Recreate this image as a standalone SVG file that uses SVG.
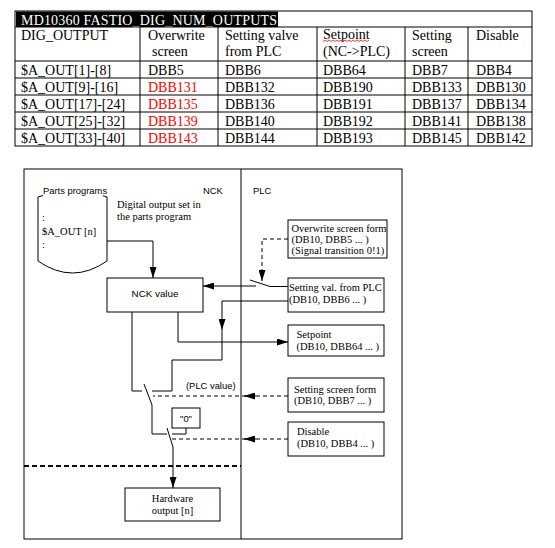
<svg xmlns="http://www.w3.org/2000/svg" width="555" height="548" viewBox="0 0 555 548">
<defs>
<style>
.tb{font-family:"Liberation Serif","Times New Roman",serif;font-size:14px;fill:#000}
.red{fill:#ff0000}
.ser{font-family:"Liberation Serif","Times New Roman",serif;font-size:10.5px;fill:#000}
.san{font-family:"Liberation Sans",Arial,sans-serif;font-size:9.4px;fill:#000}
.grid{stroke:#000;stroke-width:1;fill:none}
.box{fill:#fff;stroke:#000;stroke-width:1}
.ln{fill:none;stroke:#000;stroke-width:1}
.dash{fill:none;stroke:#000;stroke-width:1;stroke-dasharray:4,3}
.sep{fill:none;stroke:#000;stroke-width:2;stroke-dasharray:5,3}
</style>
<marker id="ah" markerWidth="11" markerHeight="7" refX="11" refY="3.5" orient="auto" markerUnits="userSpaceOnUse">
<path d="M0,0 L11,3.5 L0,7 Z" fill="#000"/>
</marker>
</defs>
<rect width="555" height="548" fill="#fff"/>

<g id="table">
<rect x="15" y="11" width="517" height="135" class="grid"/>
<rect x="16" y="11.5" width="262" height="15.5" fill="#000"/>
<text x="21" y="24.5" class="tb" style="fill:#fff" textLength="256" lengthAdjust="spacing">MD10360 FASTIO_DIG_NUM_OUTPUTS</text>
<path class="grid" d="M15,27H532M15,61H532M15,78H532M15,95H532M15,112H532M15,129H532M140,27V146M218,27V146M317,27V146M405,27V146M468,27V146"/>
<text class="tb" x="21" y="40">DIG_OUTPUT</text>
<text class="tb" x="148" y="40">Overwrite</text>
<text class="tb" x="152" y="55.5">screen</text>
<text class="tb" x="225" y="40">Setting valve</text>
<text class="tb" x="225" y="55.5">from PLC</text>
<text class="tb" x="323" y="39">Setpoint</text>
<polyline points="323,41.5 325,40 327,41.5 329,40 331,41.5 333,40 335,41.5 337,40 339,41.5 341,40 343,41.5 345,40 347,41.5 349,40 351,41.5 353,40 355,41.5 357,40 359,41.5 361,40 363,41.5 365,40 367,41.5 369,40" fill="none" stroke="#ff0000" stroke-width="0.8"/>
<text class="tb" x="323" y="55.5">(NC-&gt;PLC)</text>
<text class="tb" x="412" y="40">Setting</text>
<text class="tb" x="412" y="55.5">screen</text>
<text class="tb" x="476" y="40">Disable</text>

<text class="tb" x="21" y="74.5">$A_OUT[1]-[8]</text>
<text class="tb" x="148" y="74.5">DBB5</text>
<text class="tb" x="225" y="74.5">DBB6</text>
<text class="tb" x="323" y="74.5">DBB64</text>
<text class="tb" x="412" y="74.5">DBB7</text>
<text class="tb" x="476" y="74.5">DBB4</text>

<text class="tb" x="21" y="91.5">$A_OUT[9]-[16]</text>
<text class="tb red" x="148" y="91.5">DBB131</text>
<text class="tb" x="225" y="91.5">DBB132</text>
<text class="tb" x="323" y="91.5">DBB190</text>
<text class="tb" x="412" y="91.5">DBB133</text>
<text class="tb" x="476" y="91.5">DBB130</text>

<text class="tb" x="21" y="108.5">$A_OUT[17]-[24]</text>
<text class="tb red" x="148" y="108.5">DBB135</text>
<text class="tb" x="225" y="108.5">DBB136</text>
<text class="tb" x="323" y="108.5">DBB191</text>
<text class="tb" x="412" y="108.5">DBB137</text>
<text class="tb" x="476" y="108.5">DBB134</text>

<text class="tb" x="21" y="125.5">$A_OUT[25]-[32]</text>
<text class="tb red" x="148" y="125.5">DBB139</text>
<text class="tb" x="225" y="125.5">DBB140</text>
<text class="tb" x="323" y="125.5">DBB192</text>
<text class="tb" x="412" y="125.5">DBB141</text>
<text class="tb" x="476" y="125.5">DBB138</text>

<text class="tb" x="21" y="142.5">$A_OUT[33]-[40]</text>
<text class="tb red" x="148" y="142.5">DBB143</text>
<text class="tb" x="225" y="142.5">DBB144</text>
<text class="tb" x="323" y="142.5">DBB193</text>
<text class="tb" x="412" y="142.5">DBB145</text>
<text class="tb" x="476" y="142.5">DBB142</text>
</g>

<g id="frame">
<rect x="24" y="169" width="378" height="370" class="ln"/>
<line x1="241" y1="169" x2="241" y2="539" class="ln"/>
<line x1="24" y1="466" x2="241" y2="466" class="sep"/>
<text class="san" x="203" y="194">NCK</text>
<text class="san" x="253" y="194">PLC</text>
<text class="ser" x="117" y="208">Digital output set in</text>
<text class="ser" x="117" y="219.5">the parts program</text>
<text class="san" x="186" y="388.5">(PLC value)</text>
</g>

<g id="parts-programs">
<path class="box" d="M38,197 Q72.5,183 107,197 V261 Q72.5,285 38,261 Z"/>
<rect x="43" y="185" width="60" height="11" fill="#fff"/>
<text class="san" x="43" y="194">Parts programs</text>
<text class="ser" x="42" y="221">:</text>
<text class="ser" x="42" y="235">$A_OUT [n]</text>
<text class="ser" x="42" y="248">:</text>
</g>

<g id="nck-value">
<rect class="box" x="107" y="278" width="96" height="34"/>
<text class="san" x="155" y="297" text-anchor="middle" style="font-size:9.8px">NCK value</text>
</g>

<g id="overwrite-screen-form">
<rect class="box" x="288" y="220" width="99" height="38"/>
<text class="ser" x="291.5" y="231.5">Overwrite screen form</text>
<text class="ser" x="291.5" y="242.5">(DB10, DBB5 ... )</text>
<text class="ser" x="291.5" y="253.5">(Signal transition 0!1)</text>
</g>

<g id="setting-val-from-plc">
<rect class="box" x="288" y="278" width="96" height="34"/>
<text class="ser" x="289" y="291">Setting val. from PLC</text>
<text class="ser" x="289" y="302.5">(DB10, DBB6 ... )</text>
</g>

<g id="setpoint">
<rect class="box" x="288" y="325" width="96" height="31"/>
<text class="ser" x="296.5" y="337.5">Setpoint</text>
<text class="ser" x="296.5" y="350">(DB10, DBB64 ... )</text>
</g>

<g id="setting-screen-form">
<rect class="box" x="288" y="378" width="96" height="34"/>
<text class="ser" x="294" y="392.5">Setting screen form</text>
<text class="ser" x="294" y="404">(DB10, DBB7 ... )</text>
</g>

<g id="disable">
<rect class="box" x="288" y="422" width="96" height="34"/>
<text class="ser" x="297" y="435">Disable</text>
<text class="ser" x="297" y="446.5">(DB10, DBB4 ... )</text>
</g>

<g id="zero-value">
<rect class="box" x="172" y="408" width="28" height="20"/>
<text class="san" x="186" y="421.5" text-anchor="middle">"0"</text>
</g>

<g id="hardware-output">
<rect class="box" x="125" y="488" width="95" height="33"/>
<text class="ser" x="172.5" y="502" text-anchor="middle">Hardware</text>
<text class="ser" x="172.5" y="513.5" text-anchor="middle">output [n]</text>
</g>

<g id="connectors">
<path class="ln" d="M107,241 H153 V278" marker-end="url(#ah)"/>
<path class="ln" d="M256,286 H203" marker-end="url(#ah)"/>
<path class="ln" d="M250,280 L270,286.5 M270,286.5 H288"/>
<path class="dash" d="M288,239 H262 V270"/>
<path class="ln" d="M262,270 V281" marker-end="url(#ah)"/>
<path class="ln" d="M288,301 H222 V330" marker-end="url(#ah)"/>
<path class="ln" d="M222,330 V360 H172 V391 H152"/>
<path class="ln" d="M178,312 V342 H288" marker-end="url(#ah)"/>
<path class="ln" d="M132,312 V391 H142"/>
<path class="ln" d="M144,384 L152,405 V434 H167"/>
<path class="ln" d="M186,428 V434 H172"/>
<path class="ln" d="M167,428 L173,447 V488" marker-end="url(#ah)"/>
<path class="dash" d="M288,396 H153"/>
<path class="ln" d="M256,396 H244" marker-end="url(#ah)"/>
<path class="dash" d="M288,439 H172"/>
<path class="ln" d="M256,439 H244" marker-end="url(#ah)"/>
</g>
</svg>
